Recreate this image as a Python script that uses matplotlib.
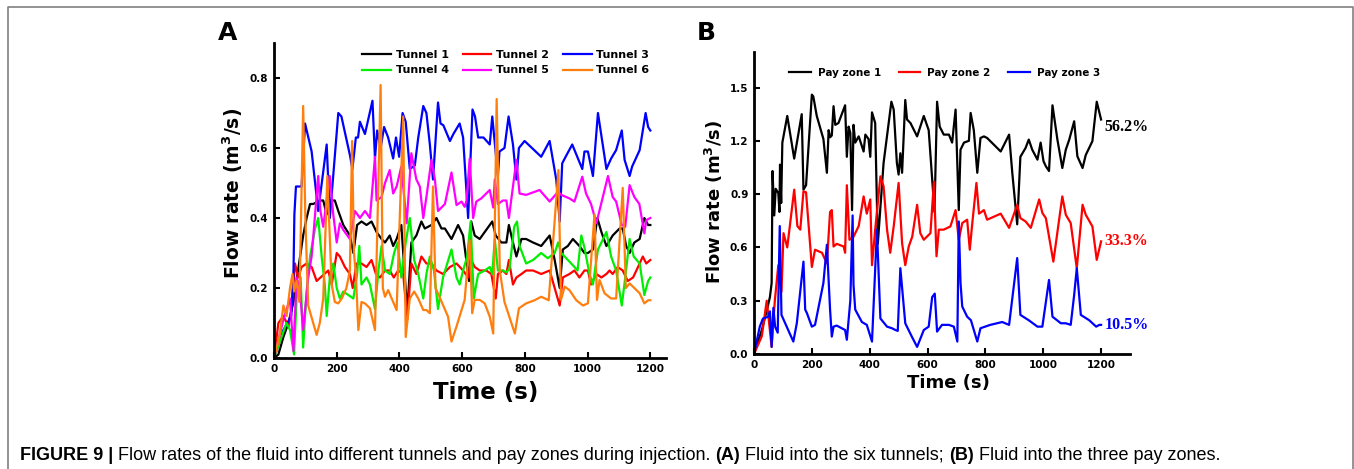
import matplotlib
matplotlib.use("Agg")
import matplotlib.pyplot as plt
from matplotlib.lines import Line2D

# ---- panel A: six tunnels (time s, flow m3/s) ----
t_tun1 = [0, 14, 30, 46, 62, 93, 104, 115, 125, 146,
          157, 168, 178, 194, 205, 221, 242, 253, 265, 279,
          295, 311, 327, 343, 354, 369, 380, 391, 406, 425,
          438, 454, 470, 481, 502, 518, 534, 545, 566, 587,
          603, 622, 629, 640, 656, 688, 696, 707, 725, 741,
          749, 762, 773, 789, 804, 826, 852, 879, 895, 911,
          921, 937, 953, 974, 990, 1001, 1017, 1031, 1044, 1060,
          1080, 1102, 1112, 1123, 1134, 1149, 1166, 1181, 1193, 1200]
q_tun1 = [0, 0.01, 0.06, 0.10, 0.16, 0.35, 0.40, 0.44, 0.44, 0.45,
          0.45, 0.41, 0.45, 0.45, 0.42, 0.38, 0.35, 0.30, 0.38, 0.39,
          0.38, 0.39, 0.36, 0.34, 0.33, 0.35, 0.32, 0.34, 0.38, 0.13,
          0.33, 0.35, 0.39, 0.37, 0.38, 0.40, 0.37, 0.37, 0.34, 0.38,
          0.35, 0.22, 0.39, 0.35, 0.34, 0.38, 0.39, 0.35, 0.33, 0.33,
          0.38, 0.33, 0.29, 0.34, 0.34, 0.33, 0.32, 0.35, 0.28, 0.20,
          0.31, 0.32, 0.34, 0.32, 0.30, 0.30, 0.31, 0.40, 0.36, 0.32,
          0.35, 0.37, 0.37, 0.32, 0.30, 0.33, 0.34, 0.40, 0.38, 0.38]

t_tun2 = [0, 14, 30, 46, 56, 67, 77, 88, 104, 120,
          136, 173, 184, 200, 210, 226, 242, 251, 263, 279,
          295, 311, 325, 338, 354, 369, 382, 396, 412, 425,
          438, 454, 470, 486, 502, 518, 539, 561, 582, 603,
          619, 629, 640, 656, 677, 693, 707, 714, 730, 741,
          749, 762, 773, 789, 804, 826, 852, 879, 895, 911,
          921, 942, 958, 974, 990, 1001, 1011, 1028, 1044, 1060,
          1070, 1080, 1096, 1112, 1128, 1145, 1166, 1176, 1187, 1200]
q_tun2 = [0, 0.10, 0.12, 0.09, 0.14, 0.27, 0.23, 0.26, 0.27, 0.26,
          0.22, 0.25, 0.21, 0.30, 0.29, 0.26, 0.24, 0.20, 0.27, 0.27,
          0.26, 0.28, 0.24, 0.23, 0.25, 0.25, 0.23, 0.25, 0.24, 0.11,
          0.27, 0.24, 0.29, 0.27, 0.27, 0.25, 0.24, 0.26, 0.27, 0.25,
          0.23, 0.28, 0.26, 0.25, 0.25, 0.24, 0.17, 0.24, 0.25, 0.24,
          0.28, 0.21, 0.23, 0.24, 0.25, 0.25, 0.24, 0.25, 0.20, 0.15,
          0.23, 0.24, 0.25, 0.23, 0.25, 0.25, 0.21, 0.24, 0.23, 0.24,
          0.25, 0.24, 0.26, 0.25, 0.22, 0.23, 0.27, 0.29, 0.27, 0.28]

t_tun3 = [0, 30, 55, 62, 65, 70, 88, 99, 120, 141,
          168, 178, 205, 215, 242, 250, 261, 268, 274, 290,
          314, 322, 329, 340, 351, 364, 380, 389, 399, 410,
          420, 433, 449, 460, 476, 486, 497, 507, 523, 531,
          540, 561, 572, 592, 603, 619, 633, 641, 651, 668,
          688, 696, 714, 719, 735, 748, 762, 773, 781, 799,
          852, 879, 900, 911, 919, 930, 951, 983, 990, 1001,
          1017, 1033, 1060, 1075, 1091, 1109, 1118, 1134, 1142, 1166,
          1185, 1193, 1200]
q_tun3 = [0, 0.08, 0.12, 0.24, 0.41, 0.49, 0.49, 0.67, 0.59, 0.42,
          0.61, 0.40, 0.70, 0.69, 0.58, 0.54, 0.63, 0.63, 0.675, 0.64,
          0.735, 0.57, 0.65, 0.60, 0.66, 0.63, 0.57, 0.63, 0.575, 0.70,
          0.675, 0.54, 0.55, 0.63, 0.72, 0.70, 0.61, 0.51, 0.73, 0.67,
          0.665, 0.62, 0.64, 0.67, 0.63, 0.40, 0.71, 0.69, 0.63, 0.63,
          0.61, 0.69, 0.52, 0.59, 0.60, 0.69, 0.61, 0.51, 0.60, 0.62,
          0.575, 0.62, 0.51, 0.39, 0.556, 0.575, 0.61, 0.54, 0.59, 0.59,
          0.52, 0.70, 0.54, 0.57, 0.594, 0.65, 0.566, 0.52, 0.547, 0.594,
          0.70, 0.66, 0.65]

t_tun4 = [0, 20, 40, 51, 64, 72, 85, 93, 104, 115,
          131, 141, 152, 162, 168, 178, 189, 200, 210, 221,
          237, 253, 265, 272, 279, 295, 306, 322, 333, 343,
          354, 369, 383, 394, 406, 420, 433, 447, 460, 476,
          486, 497, 510, 523, 539, 566, 582, 592, 603, 616,
          627, 637, 651, 672, 688, 696, 704, 714, 730, 741,
          751, 766, 775, 783, 804, 826, 852, 873, 895, 906,
          916, 932, 953, 968, 980, 990, 1006, 1017, 1033, 1044,
          1060, 1075, 1091, 1109, 1120, 1134, 1147, 1166, 1181, 1193,
          1200]
q_tun4 = [0, 0.05, 0.10, 0.08, 0.01, 0.17, 0.23, 0.03, 0.19, 0.29,
          0.37, 0.40, 0.29, 0.21, 0.12, 0.23, 0.27, 0.20, 0.17, 0.19,
          0.18, 0.17, 0.24, 0.32, 0.21, 0.23, 0.21, 0.14, 0.25, 0.32,
          0.25, 0.24, 0.30, 0.33, 0.23, 0.33, 0.40, 0.28, 0.24, 0.17,
          0.24, 0.29, 0.25, 0.14, 0.23, 0.31, 0.23, 0.21, 0.25, 0.29,
          0.39, 0.17, 0.24, 0.25, 0.26, 0.24, 0.34, 0.25, 0.25, 0.245,
          0.255, 0.375, 0.39, 0.32, 0.27, 0.28, 0.30, 0.285, 0.30, 0.33,
          0.30, 0.285, 0.265, 0.25, 0.35, 0.315, 0.24, 0.21, 0.31, 0.33,
          0.36, 0.29, 0.25, 0.15, 0.23, 0.34, 0.29, 0.27, 0.18, 0.22,
          0.23]

t_tun5 = [0, 30, 51, 62, 72, 82, 93, 109, 120, 141,
          148, 157, 178, 189, 200, 210, 221, 242, 258, 274,
          290, 306, 322, 327, 343, 354, 369, 380, 391, 406,
          423, 438, 454, 465, 476, 486, 502, 513, 523, 545,
          566, 582, 598, 608, 614, 624, 635, 645, 661, 688,
          699, 704, 714, 730, 741, 749, 773, 783, 804, 847,
          879, 906, 916, 942, 958, 983, 995, 1011, 1028, 1065,
          1080, 1091, 1109, 1120, 1134, 1149, 1165, 1181, 1187, 1200]
q_tun5 = [0, 0.11, 0.17, 0.02, 0.23, 0.20, 0.08, 0.23, 0.29, 0.52,
          0.42, 0.375, 0.52, 0.41, 0.33, 0.385, 0.366, 0.34, 0.42, 0.40,
          0.42, 0.40, 0.575, 0.45, 0.46, 0.50, 0.537, 0.47, 0.49, 0.547,
          0.385, 0.585, 0.51, 0.49, 0.40, 0.46, 0.566, 0.51, 0.42, 0.44,
          0.53, 0.437, 0.447, 0.432, 0.45, 0.57, 0.40, 0.447, 0.456, 0.48,
          0.43, 0.51, 0.44, 0.45, 0.45, 0.40, 0.566, 0.47, 0.466, 0.48,
          0.447, 0.475, 0.466, 0.456, 0.447, 0.518, 0.47, 0.44, 0.385, 0.52,
          0.46, 0.447, 0.38, 0.375, 0.494, 0.46, 0.44, 0.356, 0.394, 0.40]

t_tun6 = [0, 17, 30, 40, 51, 59, 64, 72, 81, 93,
          100, 109, 125, 136, 146, 157, 170, 184, 194, 205,
          216, 231, 242, 249, 255, 261, 269, 279, 290, 306,
          322, 340, 347, 354, 364, 380, 391, 412, 420, 433,
          447, 460, 476, 486, 497, 507, 515, 530, 555, 566,
          582, 598, 608, 624, 632, 640, 656, 672, 688, 699,
          710, 720, 735, 768, 781, 804, 831, 852, 876, 907,
          915, 927, 942, 964, 985, 1001, 1022, 1030, 1038, 1054,
          1075, 1091, 1112, 1122, 1134, 1149, 1166, 1181, 1193, 1200]
q_tun6 = [0, 0.06, 0.15, 0.12, 0.20, 0.24, 0.19, 0.22, 0.16, 0.72,
          0.40, 0.15, 0.10, 0.066, 0.10, 0.17, 0.52, 0.21, 0.16, 0.156,
          0.17, 0.20, 0.25, 0.62, 0.30, 0.24, 0.08, 0.16, 0.156, 0.142,
          0.08, 0.78, 0.20, 0.175, 0.194, 0.16, 0.137, 0.69, 0.06, 0.17,
          0.19, 0.17, 0.137, 0.137, 0.128, 0.49, 0.20, 0.17, 0.118, 0.047,
          0.09, 0.137, 0.166, 0.337, 0.128, 0.166, 0.166, 0.156, 0.118, 0.07,
          0.74, 0.25, 0.16, 0.07, 0.142, 0.156, 0.165, 0.175, 0.165, 0.537,
          0.166, 0.204, 0.194, 0.165, 0.15, 0.156, 0.41, 0.166, 0.223, 0.185,
          0.17, 0.17, 0.486, 0.20, 0.213, 0.20, 0.185, 0.156, 0.165, 0.165]

# ---- panel B: three pay zones ----
t_pz1 = [0, 27, 45, 55, 61, 64, 70, 75, 84, 88,
         90, 94, 98, 115, 139, 165, 171, 180, 200, 205,
         217, 240, 252, 258, 263, 269, 275, 281, 292, 315,
         321, 327, 333, 339, 344, 350, 362, 379, 385, 396,
         402, 408, 419, 428, 448, 475, 483, 494, 500, 506,
         512, 523, 529, 541, 564, 587, 604, 624, 633, 642,
         656, 674, 685, 697, 708, 714, 726, 743, 749, 760,
         772, 783, 795, 806, 853, 882, 893, 910, 921, 939,
         950, 962, 980, 991, 1001, 1009, 1020, 1032, 1049, 1066,
         1078, 1090, 1107, 1118, 1136, 1147, 1170, 1185, 1200]
q_pz1 = [0, 0.135, 0.25, 0.32, 0.40, 1.03, 0.78, 0.93, 0.906, 0.80,
         1.066, 0.85, 1.19, 1.34, 1.10, 1.35, 0.925, 0.95, 1.46, 1.45,
         1.34, 1.21, 1.02, 1.26, 1.22, 1.23, 1.395, 1.29, 1.30, 1.40,
         1.11, 1.28, 1.245, 0.81, 1.29, 1.19, 1.225, 1.14, 1.235, 1.21,
         1.11, 1.36, 1.30, 0.62, 1.075, 1.42, 1.376, 1.075, 1.01, 1.13,
         1.02, 1.43, 1.32, 1.30, 1.225, 1.34, 1.26, 0.80, 1.42, 1.28,
         1.235, 1.235, 1.19, 1.376, 0.81, 1.15, 1.19, 1.20, 1.357, 1.26,
         1.02, 1.216, 1.225, 1.216, 1.14, 1.235, 1.02, 0.73, 1.11, 1.16,
         1.207, 1.15, 1.094, 1.19, 1.085, 1.057, 1.03, 1.40, 1.207, 1.047,
         1.15, 1.207, 1.31, 1.113, 1.047, 1.12, 1.198, 1.42, 1.32]

t_pz2 = [0, 27, 44, 61, 72, 84, 95, 102, 115, 139,
         150, 160, 171, 180, 190, 200, 211, 235, 252, 263,
         269, 275, 286, 310, 315, 321, 330, 344, 362, 379,
         390, 402, 408, 419, 437, 448, 460, 471, 483, 500,
         512, 523, 535, 547, 564, 575, 587, 610, 622, 631,
         639, 656, 679, 697, 708, 720, 737, 746, 755, 769,
         778, 795, 806, 853, 882, 910, 921, 939, 957, 986,
         997, 1009, 1035, 1066, 1078, 1095, 1116, 1136, 1147, 1170,
         1185, 1200]
q_pz2 = [0, 0.10, 0.30, 0.04, 0.30, 0.50, 0.35, 0.68, 0.60, 0.925,
         0.72, 0.70, 0.916, 0.91, 0.70, 0.49, 0.587, 0.57, 0.51, 0.80,
         0.81, 0.605, 0.62, 0.605, 0.57, 0.95, 0.643, 0.66, 0.72, 0.887,
         0.79, 0.87, 0.50, 0.70, 1.00, 0.944, 0.70, 0.57, 0.718, 0.963,
         0.624, 0.50, 0.605, 0.66, 0.84, 0.68, 0.643, 0.68, 0.97, 0.55,
         0.70, 0.70, 0.718, 0.81, 0.643, 0.737, 0.756, 0.587, 0.74, 0.963,
         0.79, 0.81, 0.756, 0.79, 0.71, 0.84, 0.765, 0.746, 0.71, 0.87,
         0.794, 0.765, 0.52, 0.887, 0.784, 0.737, 0.483, 0.84, 0.784, 0.718,
         0.53, 0.634]

t_pz3 = [0, 20, 31, 50, 55, 61, 67, 73, 82, 89,
         95, 113, 136, 148, 171, 177, 183, 200, 211, 240,
         252, 263, 269, 275, 286, 315, 321, 333, 341, 344,
         350, 373, 390, 408, 425, 437, 460, 477, 489, 497,
         506, 523, 545, 564, 587, 604, 616, 625, 633, 650,
         674, 691, 703, 708, 714, 720, 737, 750, 772, 783,
         817, 858, 882, 910, 921, 950, 980, 997, 1020, 1032,
         1061, 1078, 1095, 1107, 1116, 1130, 1159, 1183, 1194, 1200]
q_pz3 = [0, 0.154, 0.20, 0.21, 0.24, 0.04, 0.26, 0.154, 0.12, 0.72,
         0.22, 0.154, 0.07, 0.173, 0.52, 0.25, 0.23, 0.154, 0.164, 0.40,
         0.615, 0.25, 0.098, 0.154, 0.16, 0.135, 0.08, 0.30, 0.78, 0.39,
         0.25, 0.18, 0.164, 0.07, 0.70, 0.20, 0.154, 0.145, 0.135, 0.13,
         0.483, 0.173, 0.10, 0.04, 0.135, 0.154, 0.32, 0.34, 0.126, 0.164,
         0.164, 0.154, 0.07, 0.746, 0.40, 0.267, 0.21, 0.19, 0.07, 0.145,
         0.164, 0.18, 0.164, 0.54, 0.22, 0.19, 0.154, 0.154, 0.417, 0.21,
         0.173, 0.173, 0.164, 0.333, 0.483, 0.22, 0.19, 0.154, 0.164, 0.164]

share_labels = ["56.2%", "33.3%", "10.5%"]

plt.rcParams["font.family"] = ["DejaVu Sans"]
plt.rcParams["font.weight"] = "bold"
plt.rcParams["axes.labelweight"] = "bold"

W, H = 1354, 469
fig = plt.figure(figsize=(W / 100, H / 100), dpi=100)


def style_axes(ax):
    for s in ["top", "right"]:
        ax.spines[s].set_visible(False)
    for s in ["left", "bottom"]:
        ax.spines[s].set_linewidth(2)
    ax.tick_params(direction="in", length=4, width=1.5, labelsize=7.5, pad=4)


# ---------------- panel A ----------------
axA = fig.add_axes([274 / W, 1 - 358 / H, 392 / W, 315 / H])
tunnels = [(t_tun1, q_tun1, "#000000", "Tunnel 1"),
           (t_tun2, q_tun2, "#ff0000", "Tunnel 2"),
           (t_tun3, q_tun3, "#0000ff", "Tunnel 3"),
           (t_tun4, q_tun4, "#00ee00", "Tunnel 4"),
           (t_tun5, q_tun5, "#ff00ff", "Tunnel 5"),
           (t_tun6, q_tun6, "#ff7f0e", "Tunnel 6")]
lines = {}
for t, q, c, name in tunnels:
    lines[name], = axA.plot(t, q, color=c, lw=1.6, label=name)
axA.set_xlim(0, 1250)
axA.set_ylim(0, 0.9)
axA.set_xticks([0, 200, 400, 600, 800, 1000, 1200])
axA.set_yticks([0.0, 0.2, 0.4, 0.6, 0.8])
axA.yaxis.set_major_formatter(matplotlib.ticker.FormatStrFormatter("%.1f"))
style_axes(axA)
axA.set_xlabel("Time (s)", fontsize=16.5)
axA.set_ylabel("Flow rate (m$^\\mathbf{3}$/s)", fontsize=13.5)
axA.xaxis.set_label_coords(0.54, -0.108)
axA.yaxis.set_label_coords(-0.105, 0.522)
axA.xaxis.label.set_va("center")
axA.yaxis.label.set_va("center")
order = ["Tunnel 1", "Tunnel 4", "Tunnel 2", "Tunnel 5", "Tunnel 3", "Tunnel 6"]
axA.legend([lines[n] for n in order], order, ncol=3, frameon=False,
           loc="upper left", bbox_to_anchor=(0.225, 0.978), borderaxespad=0,
           borderpad=0, fontsize=8, handlelength=2.6, handletextpad=0.4,
           columnspacing=1.25, labelspacing=0.5)

# ---------------- panel B ----------------
axB = fig.add_axes([754 / W, 1 - 354 / H, 376 / W, 302 / H])
zones = [(t_pz1, q_pz1, "#000000", "Pay zone 1"),
         (t_pz2, q_pz2, "#ff0000", "Pay zone 2"),
         (t_pz3, q_pz3, "#0000ff", "Pay zone 3")]
for (t, q, c, name), lab in zip(zones, share_labels):
    axB.plot(t, q, color=c, lw=1.6, label=name)
    axB.text(t[-1] + 13, q[-1] if lab != "56.2%" else 1.28, lab, color=c,
             family=["Liberation Serif"], fontsize=11.5, fontweight="bold",
             ha="left", va="center")
axB.set_xlim(0, 1300)
axB.set_ylim(0, 1.7)
axB.set_xticks([0, 200, 400, 600, 800, 1000, 1200])
axB.set_yticks([0.0, 0.3, 0.6, 0.9, 1.2, 1.5])
axB.yaxis.set_major_formatter(matplotlib.ticker.FormatStrFormatter("%.1f"))
style_axes(axB)
axB.set_xlabel("Time (s)", fontsize=13)
axB.set_ylabel("Flow rate (m$^\\mathbf{3}$/s)", fontsize=13)
axB.xaxis.set_label_coords(0.516, -0.096)
axB.yaxis.set_label_coords(-0.106, 0.505)
axB.xaxis.label.set_va("center")
axB.yaxis.label.set_va("center")
axB.legend(ncol=3, frameon=False, loc="upper left",
           bbox_to_anchor=(0.093, 0.948), borderaxespad=0, borderpad=0,
           fontsize=7.5, handlelength=2.1, handletextpad=0.65,
           columnspacing=1.7)

# panel letters
fig.text(228 / W, 1 - 33 / H, "A", fontsize=18, fontweight="bold",
         ha="center", va="center")
fig.text(706 / W, 1 - 33 / H, "B", fontsize=18, fontweight="bold",
         ha="center", va="center")

# frame around the figure (open at the bottom)
fig.add_artist(Line2D([8 / W, 8 / W, 1353 / W, 1353 / W],
                      [0, 1 - 7 / H, 1 - 7 / H, 0],
                      transform=fig.transFigure, color="#808080", lw=1.2))

# caption with mixed weights
pieces = [("FIGURE 9 |", "bold"),
          (" Flow rates of the fluid into different tunnels and pay zones during injection. ", "normal"),
          ("(A)", "bold"),
          (" Fluid into the six tunnels; ", "normal"),
          ("(B)", "bold"),
          (" Fluid into the three pay zones.", "normal")]
renderer = fig.canvas.get_renderer()
x = 20
for s, w in pieces:
    txt = fig.text(x / W, 1 - 455 / H, s, fontsize=13, fontweight=w,
                   family=["Liberation Sans"], ha="left", va="center")
    x = txt.get_window_extent(renderer).x1

fig.savefig("out.png", dpi=100)
